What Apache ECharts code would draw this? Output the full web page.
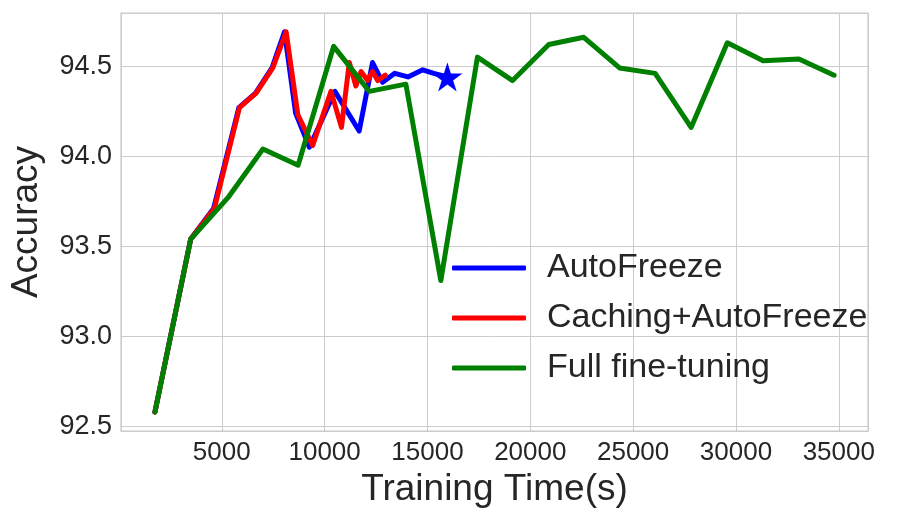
<!DOCTYPE html>
<html>
<head>
<meta charset="utf-8">
<script src="https://cdn.jsdelivr.net/npm/echarts@6/dist/echarts.min.js"></script>
<style>
html,body{margin:0;padding:0;background:#fff;}
#c{width:900px;height:522px;}
</style>
</head>
<body>
<div id="c"></div>
<script>
// Data
var autoTime = [1750, 3490, 4600, 5830, 6640, 7440, 8050, 8590, 9260, 10500, 11680, 12330, 12820, 13410, 14050, 14770, 15310, 15970];
var autoAcc  = [92.58, 93.54, 93.71, 94.27, 94.35, 94.49, 94.69, 94.24, 94.05, 94.36, 94.14, 94.52, 94.41, 94.46, 94.44, 94.48, 94.46, 94.44];

var cacheTime = [1750, 3490, 4640, 5860, 6670, 7480, 8130, 8700, 9420, 10310, 10820, 11200, 11520, 11770, 12090, 12330, 12580, 12950];
var cacheAcc  = [92.58, 93.54, 93.71, 94.27, 94.35, 94.49, 94.69, 94.23, 94.06, 94.36, 94.16, 94.52, 94.39, 94.47, 94.42, 94.47, 94.42, 94.45];

var fullTime = [1750, 3490, 5300, 7000, 8710, 10440, 12170, 13950, 15650, 17430, 19140, 20900, 22600, 24340, 26070, 27820, 29580, 31320, 33060, 34770];
var fullAcc  = [92.58, 93.54, 93.77, 94.04, 93.95, 94.61, 94.36, 94.40, 93.31, 94.55, 94.42, 94.62, 94.66, 94.49, 94.46, 94.16, 94.63, 94.53, 94.54, 94.45];

var seriesNames = ['AutoFreeze', 'Caching+AutoFreeze', 'Full fine-tuning'];

function pairs(xs, ys) { return xs.map(function (x, i) { return [x, ys[i]]; }); }

var starPath = 'path://M0,-1 L0.2245,-0.309 L0.951,-0.309 L0.363,0.118 L0.588,0.809 L0,0.382 L-0.588,0.809 L-0.363,0.118 L-0.951,-0.309 L-0.2245,-0.309 Z';
var FONT = "'Liberation Sans', Arial, Helvetica, sans-serif";
var LW = 5;

var chart = echarts.init(document.getElementById('c'), null, {renderer: 'canvas'});
chart.setOption({
  animation: false,
  backgroundColor: '#ffffff',
  grid: {
    left: 119, right: 32, top: 13, bottom: 91,
    show: true, borderColor: '#cccccc', borderWidth: 1.25, backgroundColor: 'transparent'
  },
  xAxis: {
    type: 'value', min: 100, max: 36420, splitNumber: 7,
    name: 'Training Time(s)', nameLocation: 'middle', nameGap: 36,
    nameTextStyle: {fontSize: 37, color: '#262626', fontFamily: FONT},
    axisLine: {show: false}, axisTick: {show: false},
    axisLabel: {fontSize: 26, color: '#262626', fontFamily: FONT, margin: 9, showMinLabel: false, showMaxLabel: false,
      formatter: function (v) { return String(Math.round(v)); }},
    splitLine: {show: true, lineStyle: {color: '#cccccc', width: 1}}
  },
  yAxis: {
    type: 'value', min: 92.475, max: 94.795, splitNumber: 5,
    name: 'Accuracy', nameLocation: 'middle', nameGap: 76,
    nameTextStyle: {fontSize: 37, color: '#262626', fontFamily: FONT},
    axisLine: {show: false}, axisTick: {show: false},
    axisLabel: {fontSize: 27, color: '#262626', fontFamily: FONT, margin: 9, showMinLabel: false, showMaxLabel: false,
      formatter: function (v) { return v.toFixed(1); }},
    splitLine: {show: true, lineStyle: {color: '#cccccc', width: 1}}
  },
  legend: {
    orient: 'vertical', left: 447, top: 245,
    data: seriesNames,
    icon: 'roundRect',
    itemWidth: 74, itemHeight: 5, itemGap: 14,
    textStyle: {fontSize: 34, color: '#262626', fontFamily: FONT, lineHeight: 36, padding: [0, 0, 0, 16]}
  },
  series: [
    {
      name: seriesNames[0], type: 'line', data: pairs(autoTime, autoAcc),
      symbol: 'none', z: 2,
      lineStyle: {color: '#0000ff', width: LW, cap: 'round', join: 'round'},
      itemStyle: {color: '#0000ff'}
    },
    {
      name: seriesNames[1], type: 'line', data: pairs(cacheTime, cacheAcc),
      symbol: 'none', z: 3,
      lineStyle: {color: '#ff0000', width: LW, cap: 'round', join: 'round'},
      itemStyle: {color: '#ff0000'}
    },
    {
      name: seriesNames[2], type: 'line', data: pairs(fullTime, fullAcc),
      symbol: 'none', z: 4,
      lineStyle: {color: '#008000', width: LW, cap: 'round', join: 'round'},
      itemStyle: {color: '#008000'}
    },
    {
      name: 'AutoFreeze end', type: 'scatter', z: 5,
      data: [[autoTime[autoTime.length - 1], autoAcc[autoAcc.length - 1]]],
      symbol: starPath, symbolSize: [30, 29],
      itemStyle: {color: '#0000ff', opacity: 1}
    }
  ]
});
</script>
</body>
</html>
